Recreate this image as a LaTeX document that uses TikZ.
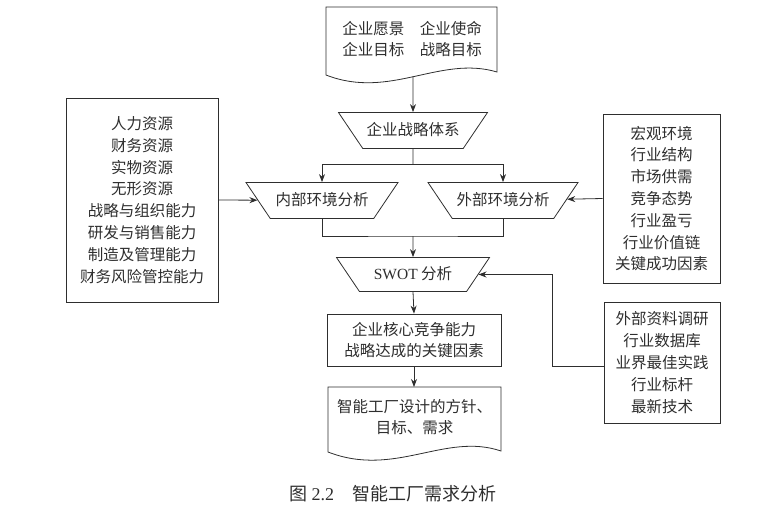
\documentclass[tikz,border=0pt]{standalone}
\usepackage{fontspec}
\setmainfont{Noto Sans CJK SC}
\newfontfamily\lat{Liberation Serif}
\usetikzlibrary{arrows.meta,shapes.geometric}
\definecolor{ink}{HTML}{2E2E2E}
\tikzset{
  base/.style={text=ink,font=\fontsize{15.5}{21.8}\selectfont,align=center},
  trap/.style={base,draw=ink,line width=0.8pt,trapezium,trapezium angle=56,
    shape border rotate=180,trapezium stretches body,
    inner xsep=0pt,inner ysep=10.5pt,text height=12pt,text depth=3pt},
  plainbox/.style={base,draw=ink,line width=0.8pt,rectangle,inner sep=0pt},
  doctext/.style={base,inner sep=0pt},
  conn/.style={draw=ink,line width=0.8pt},
  arr/.style={conn,-{Stealth[length=8pt,width=6pt]}},
  outline/.style={draw=ink,line width=0.8pt}
}
\begin{document}
\begin{tikzpicture}[x=1pt,y=-1pt]
\useasboundingbox (0,0) rectangle (761,517);
% top document
\node[doctext] (vision) at (412,39) {企业愿景\quad 企业使命\\企业目标\quad 战略目标};
\draw[outline] (326,7) -- (497,7) -- (497,72)
  .. controls (440,55) and (390,100) .. (326,75) -- cycle;
\coordinate (visionbot) at (413,76.5);
% strategy
\node[trap,minimum width=149pt] (strat) at (413,130.5) {企业战略体系};
\node[trap,minimum width=152pt] (inner) at (322,200.5) {内部环境分析};
\node[trap,minimum width=150pt] (outer) at (503,200.5) {外部环境分析};
\node[trap,minimum width=153pt,inner ysep=9.5pt] (swot) at (413,274.5) {{\lat SWOT} 分析};
% side boxes
\node[plainbox,minimum width=152pt,minimum height=204pt] (res) at (142,200)
  {人力资源\\财务资源\\实物资源\\无形资源\\战略与组织能力\\研发与销售能力\\制造及管理能力\\财务风险管控能力};
\node[plainbox,minimum width=117pt,minimum height=169pt] (env) at (661.5,198.5)
  {宏观环境\\行业结构\\市场供需\\竞争态势\\行业盈亏\\行业价值链\\关键成功因素};
\node[plainbox,minimum width=116pt,minimum height=121pt] (data) at (662,362.5)
  {外部资料调研\\行业数据库\\业界最佳实践\\行业标杆\\最新技术};
% core box
\node[plainbox,minimum width=174pt,minimum height=52pt] (core) at (414,340)
  {企业核心竞争能力\\战略达成的关键因素};
% bottom document
\node[doctext] (goal) at (414.5,417) {智能工厂设计的方针、\\目标、需求};
\draw[outline] (328,387) -- (501,387) -- (501,451)
  .. controls (445,432) and (395,478) .. (328,452) -- cycle;
\coordinate (goaltop) at (414,387);
% caption
\node[base,anchor=west,font=\fontsize{18}{22}\selectfont] (cap) at (286,494) {图 {\lat 2.2}\hspace{1em}智能工厂需求分析};
% connectors
\draw[arr] (visionbot) -- (strat.north);
\coordinate (j1) at (413,164);
\coordinate (j2) at (413,236);
\draw[conn] (strat.south) -- (j1);
\draw[arr] (j1) -| (inner.north);
\draw[arr] (j1) -| (outer.north);
\draw[conn] (inner.south) |- (j2) -| (outer.south);
\draw[arr] (j2) -- (swot.north);
\draw[arr] (res.east) -- (inner);
\draw[arr] (env.west) -- (outer);
\coordinate (bend) at (552,366);
\draw[arr] (data.west |- bend) -- (bend) |- (swot);
\draw[arr] (swot.south) -- (core.north);
\draw[arr] (core.south) -- (goaltop);
\end{tikzpicture}
\end{document}
